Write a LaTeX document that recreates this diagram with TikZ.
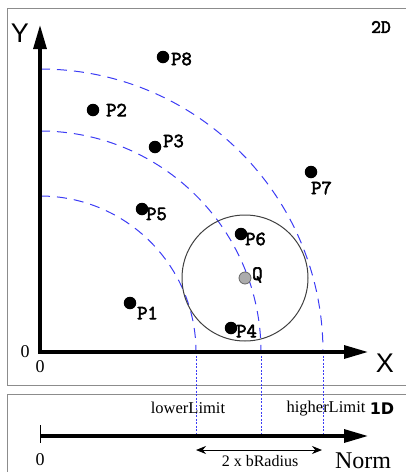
\documentclass[tikz,border=0pt]{standalone}
\usepackage{fontspec}
\setmainfont{Liberation Serif}
\newfontfamily\lsans{Liberation Sans}
\newfontfamily\dsans{DejaVu Sans}
\newfontfamily\pmono{Latin Modern Mono}[FakeBold=3]
\usetikzlibrary{arrows.meta}
\definecolor{arcblue}{RGB}{60,60,245}
\definecolor{framegray}{RGB}{140,140,140}
\tikzset{
  framebox/.style={draw=framegray, line width=1pt},
  axisline/.style={line width=3.2pt, line join=miter},
  arcdash/.style={draw=arcblue, line width=1pt, dash pattern=on 10pt off 7pt},
  dotline/.style={draw=arcblue, line width=1pt, dash pattern=on 2pt off 1.5pt},
  pdot/.style={circle, fill=black, inner sep=0pt, minimum size=12.5pt},
  qdot/.style={circle, fill=gray!65, draw=gray!80!black, line width=0.8pt, inner sep=0pt, minimum size=12pt},
  plab/.style={font=\pmono\fontsize{20}{20}\selectfont, inner sep=0pt, anchor=west},
  axlab/.style={font=\lsans\fontsize{27}{27}\selectfont, inner sep=0pt},
  serlab/.style={font=\fontsize{16.5}{16.5}\selectfont, inner sep=0pt},
  zerolab/.style={font=\fontsize{18}{18}\selectfont, inner sep=0pt},
}
\begin{document}
\begin{tikzpicture}[x=1pt, y=-1pt]
\useasboundingbox (0,0) rectangle (406,472);
% frames
\draw[framebox] (7,8) rectangle (415,385);
\draw[framebox] (7,394) rectangle (415,480);
% coordinates
\coordinate (o) at (40,352);
\coordinate (ytip) at (40,25);
\coordinate (xtip) at (368,352);
\coordinate (a1) at (196,352);
\coordinate (a2) at (261,352);
\coordinate (a3) at (323,352);
\coordinate (b0) at (40,436);
\coordinate (b1) at (196,436);
\coordinate (b2) at (261,436);
\coordinate (b3) at (323,436);
\coordinate (btip) at (368,436);
% arcs
\draw[arcdash] (40,196) arc[start angle=-90, end angle=0, radius=156];
\draw[arcdash] (40,131) arc[start angle=-90, end angle=0, radius=221];
\draw[arcdash] (40,69) arc[start angle=-90, end angle=0, radius=283];
% dotted projections
\draw[dotline] (a1) -- (b1);
\draw[dotline] (a2) -- (b2);
\draw[dotline] (a3) -- (b3);
% circle
\node[qdot] (q) at (245,278) {};
\draw[draw=black!75, line width=1pt] (q.center) circle[radius=63];
% axes
\draw[axisline, {Triangle[length=24pt,width=13pt]}-{Triangle[length=24pt,width=13pt]}] (ytip) -- (o) -- (xtip);
\draw[axisline, -{Triangle[length=24pt,width=13pt]}] (b0) -- (btip);
\draw[line width=1pt] (40,425) -- (40,443);
% double arrow
\coordinate (d1) at (196,450);
\coordinate (d2) at (322,450);
\draw[line width=1pt, {Stealth[length=10pt,width=8pt]}-{Stealth[length=10pt,width=8pt]}] (d1) -- (d2);
% points
\node[pdot] (p8) at (163,57) {};
\node[pdot] (p2) at (93,110) {};
\node[pdot] (p3) at (155,147) {};
\node[pdot] (p7) at (311,172) {};
\node[pdot] (p5) at (142,209) {};
\node[pdot] (p6) at (241,234) {};
\node[pdot] (p1) at (130,303) {};
\node[pdot] (p4) at (231,328) {};
\node[plab] (l8) at (171,59) {P8};
\node[plab] (l2) at (106,110) {P2};
\node[plab] (l3) at (163,141) {P3};
\node[plab] (l7) at (311,188) {P7};
\node[plab] (l5) at (146,214) {P5};
\node[plab] (l6) at (245,239) {P6};
\node[plab] (lq) at (252,275) {Q};
\node[plab] (l1) at (137,313) {P1};
\node[plab] (l4) at (236,331) {P4};
% axis labels
\node[axlab] (ylab) at (20,33) {Y};
\node[axlab] (xlab) at (385,363) {X};
\node[zerolab] (z1) at (25,352) {0};
\node[zerolab] (z2) at (40,367) {0};
\node[zerolab] (z3) at (40,460) {0};
\node[font=\pmono\fontsize{19}{19}\selectfont, inner sep=0pt] (t2d) at (381,27) {2D};
\node[font=\dsans\bfseries\fontsize{16}{16}\selectfont, inner sep=0pt] (t1d) at (382,409) {1D};
\node[serlab, anchor=base] (low) at (188,413) {lowerLimit};
\node[serlab, anchor=base] (high) at (326,412) {higherLimit};
\node[font=\fontsize{16}{16}\selectfont, inner sep=0pt, anchor=base] (br) at (260,466) {2 x bRadius};
\node[font=\fontsize{24}{24}\selectfont, inner sep=0pt, anchor=base] (norm) at (363,468) {Norm};
\end{tikzpicture}
\end{document}
